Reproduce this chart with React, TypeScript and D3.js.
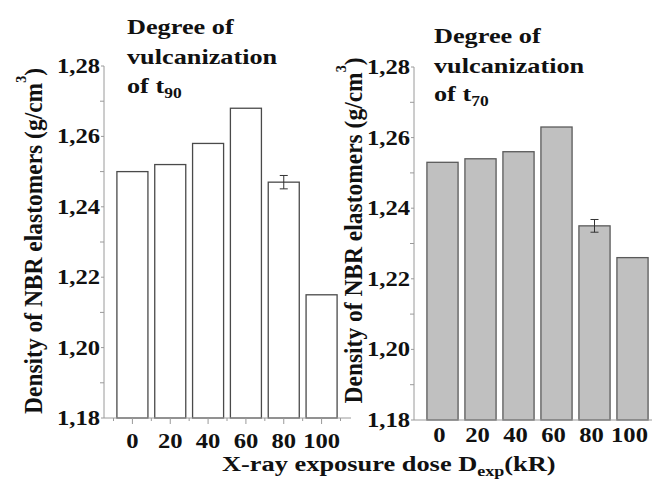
import React from "react";
import * as d3 from "d3";

const categories = ["0", "20", "40", "60", "80", "100"];
const densityT90 = [1.25, 1.252, 1.258, 1.268, 1.247, 1.215];
const densityT70 = [1.253, 1.254, 1.256, 1.263, 1.235, 1.226];
const errT90 = [0, 0, 0, 0, 0.0019, 0];
const errT70 = [0, 0, 0, 0, 0.0018, 0];
const yTicks = [1.18, 1.2, 1.22, 1.24, 1.26, 1.28];
const yMinorTicks = [1.19, 1.21, 1.23, 1.25, 1.27];
const yDomain = [1.18, 1.28];

const FONT = "Liberation Serif, Times New Roman, serif";
const fmt = (v: number) => d3.format(".2f")(v).replace(".", ",");

type PanelCfg = {
  values: number[];
  errors: number[];
  xRange: [number, number];
  yRange: [number, number];
  axisX: number;
  axisEnd: number;
  fill: string;
  stroke: string;
  showXTicks: boolean;
  labelBaseline: number;
  labelOffset: number;
  titleX: number;
  titleBaselines: number[];
  sub: string;
  yTitleX: number;
  yTitleCY: number;
};

const panels: PanelCfg[] = [
  {
    values: densityT90,
    errors: errT90,
    xRange: [113.5, 340.5],
    yRange: [418, 66],
    axisX: 104,
    axisEnd: 351,
    fill: "#ffffff",
    stroke: "#4a4a4a",
    showXTicks: true,
    labelBaseline: 448,
    labelOffset: 0,
    titleX: 127,
    titleBaselines: [33.5, 63.5, 92.5],
    sub: "90",
    yTitleX: 41.5,
    yTitleCY: 241,
  },
  {
    values: densityT70,
    errors: errT70,
    xRange: [423.5, 651.5],
    yRange: [420, 67],
    axisX: 414,
    axisEnd: 652,
    fill: "#c0c0c0",
    stroke: "#5a5a5a",
    showXTicks: false,
    labelBaseline: 442,
    labelOffset: -3,
    titleX: 434,
    titleBaselines: [43, 73, 101],
    sub: "70",
    yTitleX: 362,
    yTitleCY: 230.5,
  },
];

const SX = 1.2;
const textStyle: React.CSSProperties = { fontFamily: FONT, fontWeight: 700 };

function Panel({ p }: { p: PanelCfg }) {
  const x = d3.scaleBand<string>().domain(categories).range(p.xRange).paddingInner(0.18).paddingOuter(0.09);
  const y = d3.scaleLinear().domain(yDomain).range(p.yRange);
  const bw = x.bandwidth();
  const step = x.step();
  const y0 = y(yDomain[0]);
  const axisColor = "#9a9a9a";
  return (
    <g>
      {categories.map((c, i) => (
        <rect
          key={c}
          x={x(c)!}
          y={y(p.values[i])}
          width={bw}
          height={y0 - y(p.values[i])}
          fill={p.fill}
          stroke={p.stroke}
          strokeWidth={1.3}
        />
      ))}
      {categories.map((c, i) =>
        p.errors[i] > 0 ? (
          <g key={"e" + c} stroke="#333" strokeWidth={1}>
            <line x1={x(c)! + bw / 2} x2={x(c)! + bw / 2} y1={y(p.values[i] + p.errors[i])} y2={y(p.values[i] - p.errors[i])} />
            <line x1={x(c)! + bw / 2 - 4} x2={x(c)! + bw / 2 + 4} y1={y(p.values[i] + p.errors[i])} y2={y(p.values[i] + p.errors[i])} />
            <line x1={x(c)! + bw / 2 - 4} x2={x(c)! + bw / 2 + 4} y1={y(p.values[i] - p.errors[i])} y2={y(p.values[i] - p.errors[i])} />
          </g>
        ) : null
      )}
      <line x1={p.axisX} x2={p.axisX} y1={y(yDomain[1])} y2={y0} stroke={axisColor} strokeWidth={1} />
      <line x1={p.axisX} x2={p.axisEnd} y1={y0} y2={y0} stroke={axisColor} strokeWidth={1} />
      {yTicks.map((t) => (
        <line key={"yt" + t} x1={p.axisX - 3} x2={p.axisX} y1={y(t)} y2={y(t)} stroke={axisColor} />
      ))}
      {yMinorTicks.map((t) => (
        <line key={"ym" + t} x1={p.axisX - 4} x2={p.axisX} y1={y(t)} y2={y(t)} stroke={axisColor} />
      ))}
      {p.showXTicks &&
        categories.map((c) => (
          <line key={"xt" + c} x1={x(c)! + bw / 2} x2={x(c)! + bw / 2} y1={y0} y2={y0 + 6} stroke={axisColor} />
        ))}
      {p.showXTicks &&
        [...categories.map((c) => x(c)! - (step - bw) / 2), x(categories[categories.length - 1])! + bw + (step - bw) / 2].map((v, i) => (
          <line key={"xm" + i} x1={v} x2={v} y1={y0} y2={y0 + 3} stroke={axisColor} />
        ))}
      {yTicks.map((t) => (
        <text
          key={"yl" + t}
          transform={`translate(${p.axisX - 4},${y(t) + 7}) scale(${SX},1)`}
          textAnchor="end"
          style={textStyle}
          fontSize={20.5}
          fill="#111"
        >
          {fmt(t)}
        </text>
      ))}
      {categories.map((c) => (
        <text
          key={"xl" + c}
          transform={`translate(${x(c)! + bw / 2 + p.labelOffset},${p.labelBaseline}) scale(${SX},1)`}
          textAnchor="middle"
          style={textStyle}
          fontSize={20.5}
          fill="#111"
        >
          {c}
        </text>
      ))}
      {["Degree of", "vulcanization"].map((s, i) => (
        <text
          key={"t" + i}
          transform={`translate(${p.titleX},${p.titleBaselines[i]}) scale(1.25,1)`}
          style={textStyle}
          fontSize={21}
          fill="#111"
        >
          {s}
        </text>
      ))}
      <text
        transform={`translate(${p.titleX},${p.titleBaselines[2]}) scale(1.25,1)`}
        style={textStyle}
        fontSize={21}
        fill="#111"
      >
        of t
        <tspan fontSize={14} dy={5}>
          {p.sub}
        </tspan>
      </text>
      <text
        transform={`translate(${p.yTitleX},${p.yTitleCY}) scale(1.3,1) rotate(-90)`}
        textAnchor="middle"
        style={textStyle}
        fontSize={20}
        fill="#111"
        textLength={346}
        lengthAdjust="spacingAndGlyphs"
      >
        Density of NBR elastomers (g/cm
        <tspan fontSize={12} dy={-12}>
          3
        </tspan>
        <tspan dy={12}>)</tspan>
      </text>
    </g>
  );
}

export default function App() {
  return (
    <svg
      width={652}
      height={479}
      viewBox="0 0 652 479"
      style={{ position: "absolute", left: 0, top: 0, background: "#fff" }}
    >
      <rect width={652} height={479} fill="#fff" />
      {panels.map((p, i) => (
        <Panel key={i} p={p} />
      ))}
      <text
        transform={`translate(222,471) scale(1.2,1)`}
        style={textStyle}
        fontSize={22}
        fill="#111"
      >
        X-ray exposure dose D
        <tspan fontSize={15} dy={5}>
          exp
        </tspan>
        <tspan dy={-5}>(kR)</tspan>
      </text>
    </svg>
  );
}
